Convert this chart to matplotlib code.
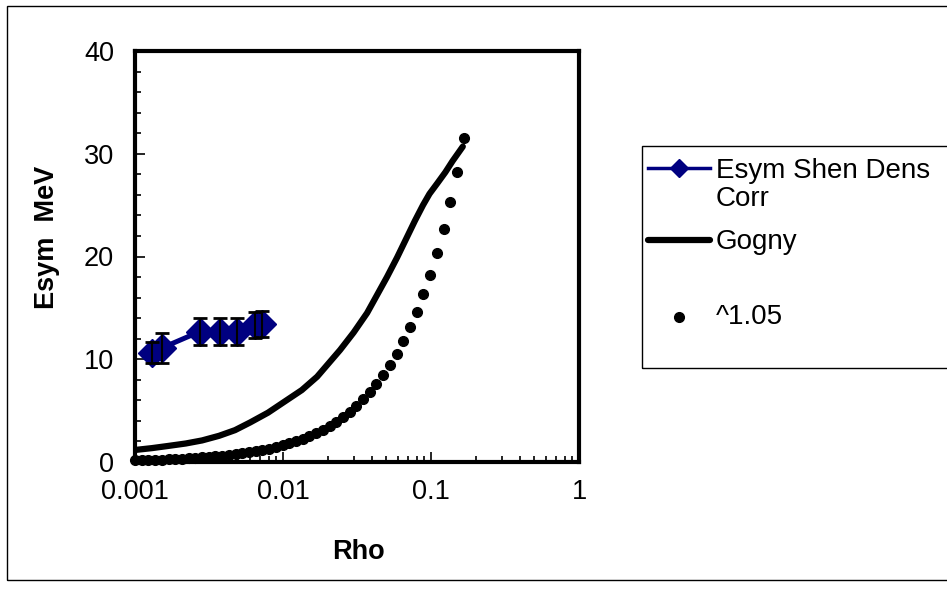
import matplotlib
matplotlib.use("Agg")
import matplotlib.pyplot as plt
from matplotlib.lines import Line2D
from matplotlib.patches import Rectangle
from matplotlib.ticker import FixedLocator, MultipleLocator, LogLocator, NullFormatter

plt.rcParams['font.family'] = ['Liberation Sans', 'DejaVu Sans']

# measured points (blue diamonds with error bars)
shen_rho = [0.0013, 0.00152, 0.00275, 0.00375, 0.0049, 0.0065, 0.0072]
shen_esym = [10.65, 11.1, 12.7, 12.7, 12.7, 13.35, 13.4]
shen_err = [1.05, 1.45, 1.3, 1.3, 1.3, 1.25, 1.25]

# Gogny curve
gogny_rho = [0.001, 0.0013, 0.00167, 0.0022, 0.00284, 0.0037, 0.00474, 0.006,
             0.00792, 0.0103, 0.0134, 0.017, 0.0243, 0.03, 0.037, 0.043,
             0.0504, 0.059, 0.0689, 0.078, 0.0883, 0.0977, 0.11, 0.125,
             0.14, 0.164]
gogny_esym = [1.17, 1.35, 1.56, 1.8, 2.1, 2.55, 3.1, 3.85,
              4.8, 5.9, 7.0, 8.3, 10.9, 12.6, 14.5, 16.2,
              18.0, 19.9, 21.9, 23.5, 25.0, 26.1, 27.1, 28.2,
              29.3, 30.7]

# ^1.05 dots
pow_rho = [0.001, 0.00111, 0.001232, 0.001368, 0.001518, 0.001685, 0.00187,
           0.002076, 0.002305, 0.002558, 0.002839, 0.003152, 0.003498, 0.003883,
           0.00431, 0.004785, 0.005311, 0.005895, 0.006544, 0.007263, 0.008062,
           0.008949, 0.009934, 0.01103, 0.01224, 0.01359, 0.01508, 0.01674,
           0.01858, 0.02062, 0.02289, 0.02541, 0.0282, 0.03131, 0.03475,
           0.03857, 0.04282, 0.04753, 0.05275, 0.05856, 0.065, 0.07215,
           0.08008, 0.08889, 0.09867, 0.1095, 0.1216, 0.135, 0.1498, 0.1663]
pow_esym = [0.147, 0.164, 0.182, 0.204, 0.227, 0.253, 0.283, 0.316, 0.352,
            0.393, 0.438, 0.489, 0.546, 0.609, 0.68, 0.758, 0.846, 0.944,
            1.05, 1.18, 1.31, 1.46, 1.63, 1.82, 2.03, 2.27, 2.53, 2.83,
            3.15, 3.52, 3.93, 4.38, 4.89, 5.46, 6.09, 6.79, 7.58, 8.46,
            9.44, 10.53, 11.75, 13.11, 14.63, 16.32, 18.21, 20.32, 22.67,
            25.3, 28.23, 31.5]

xticks = [0.001, 0.01, 0.1, 1]
xlabels = ['0.001', '0.01', '0.1', '1']
yticks = [0, 10, 20, 30, 40]

W, H = 947, 595
fig = plt.figure(figsize=(W / 100, H / 100), dpi=100)
ax = fig.add_axes([135 / W, 1 - 462 / H, 444 / W, 411 / H])

navy = '#000080'
fs = 19.5

ax.plot(gogny_rho, gogny_esym, color='black', lw=4.5, solid_capstyle='round',
        solid_joinstyle='round', zorder=2)
ax.plot(pow_rho, pow_esym, 'o', color='black', ms=7, clip_on=False, zorder=3)
ax.plot(shen_rho, shen_esym, '-', color=navy, lw=3.6, marker='D', ms=14,
        mfc=navy, mec=navy, zorder=4)
ax.errorbar(shen_rho, shen_esym, yerr=shen_err, fmt='none', ecolor='black',
            elinewidth=1.5, capsize=5, capthick=2, zorder=5)

ax.set_xscale('log')
ax.set_xlim(0.001, 1)
ax.set_ylim(0, 40)
ax.xaxis.set_major_locator(FixedLocator(xticks))
ax.set_xticklabels(xlabels)
ax.xaxis.set_minor_locator(LogLocator(base=10, subs=range(2, 10)))
ax.xaxis.set_minor_formatter(NullFormatter())
ax.yaxis.set_major_locator(FixedLocator(yticks))
ax.yaxis.set_minor_locator(MultipleLocator(2))

ax.tick_params(which='both', direction='in', labelsize=fs, width=1.2)
ax.tick_params(which='major', length=7)
ax.tick_params(which='minor', length=4)
ax.tick_params(axis='x', pad=12)
ax.tick_params(axis='y', pad=15)
for s in ax.spines.values():
    s.set_linewidth(3)

fig.text(47 / W, 1 - 237 / H, 'Esym  MeV', rotation=90, ha='center', va='center',
         fontsize=fs, fontweight='bold')
fig.text(358 / W, 1 - 552 / H, 'Rho', ha='center', va='center',
         fontsize=fs, fontweight='bold')

# legend box drawn by hand to match layout
lfs = 20
fig.add_artist(Rectangle((642 / W, 1 - 368 / H), 320 / W, 222 / H, transform=fig.transFigure,
                         fill=False, edgecolor='black', lw=1))
fig.add_artist(Line2D([648 / W, 679 / W, 710 / W], [1 - 168 / H] * 3, transform=fig.transFigure,
                      color=navy, lw=2.5, marker='D', ms=9, markevery=[1],
                      mfc=navy, mec=navy))
fig.add_artist(Line2D([648 / W, 710 / W], [1 - 240 / H] * 2, transform=fig.transFigure,
                      color='black', lw=4.5, solid_capstyle='round'))
fig.add_artist(Line2D([679 / W], [1 - 317 / H], transform=fig.transFigure,
                      color='black', marker='o', ms=7, ls='none'))
fig.text(716 / W, 1 - 185 / H, 'Esym Shen Dens\nCorr', ha='left', va='center',
         fontsize=lfs, linespacing=1.15)
fig.text(716 / W, 1 - 242 / H, 'Gogny', ha='left', va='center', fontsize=lfs)
fig.text(716 / W, 1 - 317 / H, '^1.05', ha='left', va='center', fontsize=lfs)

# outer chart border
fig.add_artist(Rectangle((7 / W, 1 - 580 / H), 960 / W, 574 / H, transform=fig.transFigure,
                         fill=False, edgecolor='black', lw=1))

fig.savefig('out.png', dpi=100)
